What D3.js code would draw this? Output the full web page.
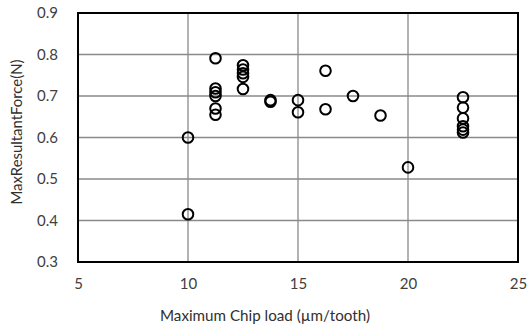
<!DOCTYPE html>
<meta charset='utf-8'>
<style>
    html, body {
        margin: 0;
        background: white;
    }

    .grid line {
        stroke: #8a8a8a;
        stroke-width: 1.3;
    }

    .axis text {
        fill: #404040;
        font-size: 15px;
        font-family: Lato, 'Open Sans', sans-serif;
    }

    .title {
        fill: #303030;
        font-size: 15px;
        font-family: Lato, 'Open Sans', sans-serif;
    }

    .dot {
        fill: none;
        stroke: black;
        stroke-width: 2;
    }
</style>
<title>Max resultant force vs chip load</title>
<body>

<script src='https://d3js.org/d3.v7.min.js'></script>
<script>

	// chip load (um/tooth) and max resultant force (N)
	let chipLoad = [10, 10,
		11.25, 11.25, 11.25, 11.25, 11.25, 11.25,
		12.5, 12.5, 12.5, 12.5, 12.5,
		13.75, 13.75,
		15, 15, 16.25, 16.25, 17.5, 18.75, 20,
		22.5, 22.5, 22.5, 22.5, 22.5, 22.5];
	let maxForce = [0.6, 0.415,
		0.791, 0.718, 0.709, 0.7, 0.67, 0.655,
		0.774, 0.764, 0.755, 0.746, 0.717,
		0.69, 0.686,
		0.69, 0.661, 0.761, 0.668, 0.7, 0.653, 0.528,
		0.697, 0.672, 0.646, 0.627, 0.619, 0.612];

	let xTicks = [5, 10, 15, 20, 25];
	let yTicks = [0.3, 0.4, 0.5, 0.6, 0.7, 0.8, 0.9];

	let margin = {top: 13, right: 10, bottom: 64, left: 78},
		width = 528 - margin.left - margin.right,
		height = 326 - margin.top - margin.bottom;

	let x = d3.scaleLinear().domain([5, 25]).range([0, width]);
	let y = d3.scaleLinear().domain([0.3, 0.9]).range([height, 0]);

	let svg = d3.select('body').append('svg')
		.attr('width', 528)
		.attr('height', 326)
		.append('g')
		.attr('transform', 'translate(' + margin.left + ',' + margin.top + ')');

	// gridlines
	svg.append('g')
		.attr('class', 'grid')
		.selectAll('line.h')
		.data(yTicks)
		.enter().append('line')
		.attr('x1', 0).attr('x2', width)
		.attr('y1', d => y(d)).attr('y2', d => y(d));

	svg.append('g')
		.attr('class', 'grid')
		.selectAll('line.v')
		.data(xTicks)
		.enter().append('line')
		.attr('y1', 0).attr('y2', height)
		.attr('x1', d => x(d)).attr('x2', d => x(d));

	// axes (labels only, frame drawn separately)
	let xAxis = svg.append('g')
		.attr('class', 'axis')
		.attr('transform', 'translate(0,' + height + ')')
		.call(d3.axisBottom(x).tickValues(xTicks).tickSize(0).tickPadding(16).tickFormat(d3.format('d')));
	xAxis.select('.domain').remove();

	let yAxis = svg.append('g')
		.attr('class', 'axis')
		.call(d3.axisLeft(y).tickValues(yTicks).tickSize(0).tickPadding(20).tickFormat(d3.format('.1f')));
	yAxis.select('.domain').remove();

	svg.append('rect')
		.attr('width', width)
		.attr('height', height)
		.attr('fill', 'none')
		.attr('stroke', 'black')
		.attr('stroke-width', 2);

	svg.selectAll('.dot')
		.data(chipLoad.map((c, i) => [c, maxForce[i]]))
		.enter().append('circle')
		.attr('class', 'dot')
		.attr('cx', d => x(d[0]))
		.attr('cy', d => y(d[1]))
		.attr('r', 5.3);

	d3.select('svg').append('text')
		.attr('class', 'title')
		.attr('x', 265)
		.attr('y', 321)
		.attr('text-anchor', 'middle')
		.attr('textLength', 210)
		.attr('lengthAdjust', 'spacingAndGlyphs')
		.text('Maximum Chip load (µm/tooth)');

	d3.select('svg').append('text')
		.attr('class', 'title')
		.attr('transform', 'translate(22,132) rotate(-90)')
		.attr('text-anchor', 'middle')
		.attr('textLength', 145)
		.attr('lengthAdjust', 'spacingAndGlyphs')
		.text('MaxResultantForce(N)');

</script>
</body>
